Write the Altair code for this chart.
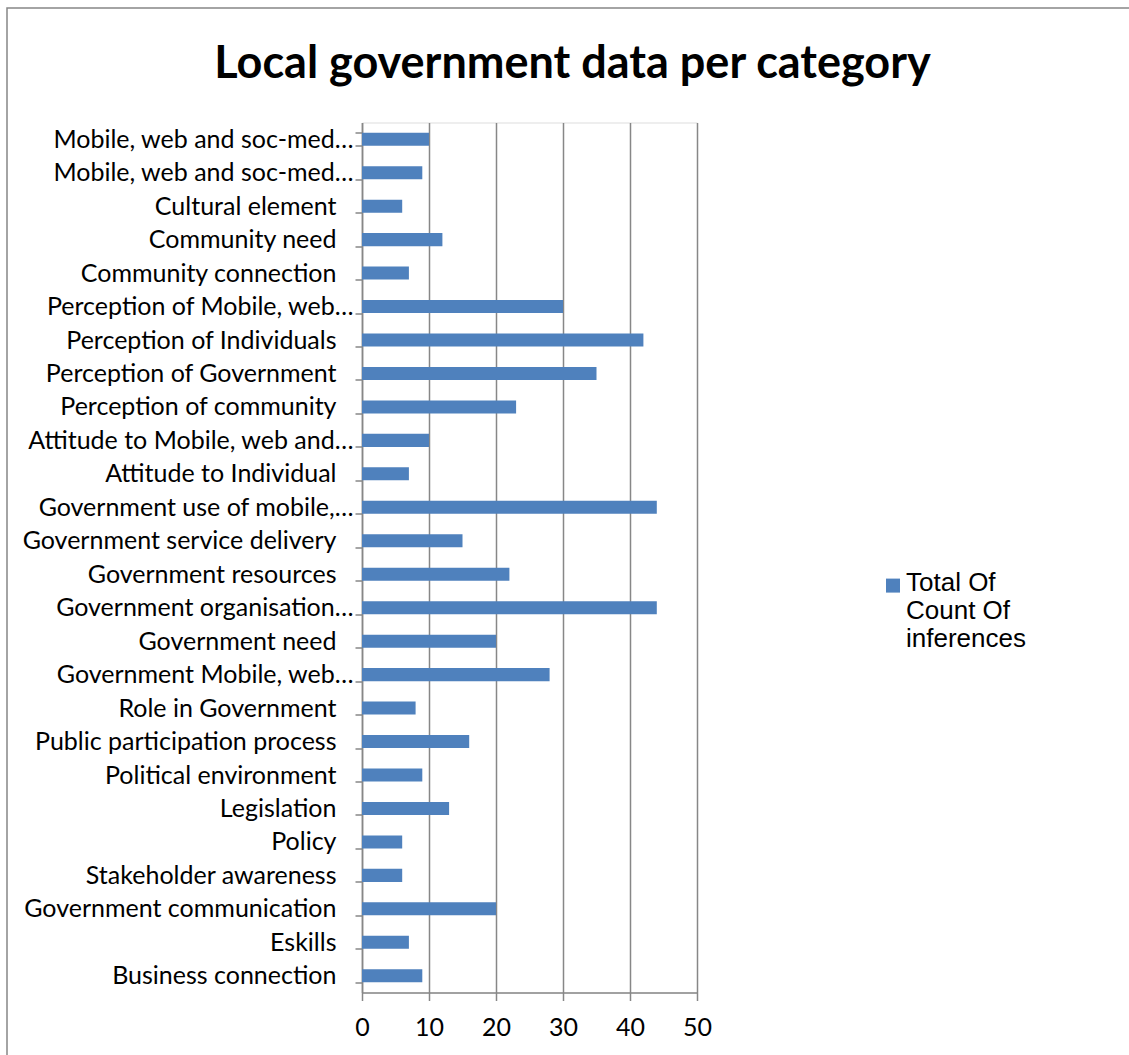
import altair as alt
import pandas as pd

# ---- data (top to bottom as displayed) ----
labels = [
    "Mobile, web and soc-med…",
    "Mobile, web and soc-med…",
    "Cultural element",
    "Community need",
    "Community connection",
    "Perception of Mobile, web…",
    "Perception of Individuals",
    "Perception of Government",
    "Perception of community",
    "Attitude to Mobile, web and…",
    "Attitude to Individual",
    "Government use of mobile,…",
    "Government service delivery",
    "Government resources",
    "Government organisation…",
    "Government need",
    "Government Mobile, web…",
    "Role in Government",
    "Public participation process",
    "Political environment",
    "Legislation",
    "Policy",
    "Stakeholder awareness",
    "Government communication",
    "Eskills",
    "Business connection",
]
counts = [10, 9, 6, 12, 7, 30, 42, 35, 23, 10, 7, 44, 15, 22, 44, 20, 28, 8, 16, 9, 13, 6, 6, 20, 7, 9]
series_name = "Total Of Count Of inferences"
legend_lines = ["Total Of", "Count Of", "inferences"]
x_ticks = [0, 10, 20, 30, 40, 50]
title_text = "Local government data per category"

keys = [f"k{i:02d}" for i in range(len(labels))]
df = pd.DataFrame({"key": keys, "label": labels, "count": counts, "series": series_name})

label_expr = "{" + ", ".join(f"'{k}': '{l}'" for k, l in zip(keys, labels)) + "}[datum.value]"
trunc_keys = [k for k, l in zip(keys, labels) if l.endswith("…")]
trunc_test = "indexof([" + ",".join(f"'{k}'" for k in trunc_keys) + "], datum.value) >= 0"
legend_expr = "[" + ", ".join(f"'{s}'" for s in legend_lines) + "]"

GRAY = "#878787"
BLUE = "#4F81BD"

bars = alt.Chart(df).mark_bar().encode(
    x=alt.X(
        "count:Q",
        scale=alt.Scale(domain=[0, 50], nice=False),
        axis=alt.Axis(
            values=x_ticks, title=None, grid=True, gridColor=GRAY, gridWidth=1.5,
            domainColor=GRAY, domainWidth=1.5, tickColor=GRAY, tickWidth=1.5, tickSize=8,
            labelFont="Lato", labelFontSize=25, labelColor="black", labelPadding=15,
            labelFlush=False, labelOverlap=False,
        ),
    ),
    y=alt.Y(
        "key:N",
        sort=keys,
        scale=alt.Scale(paddingInner=0.61, paddingOuter=0.305),
        axis=alt.Axis(
            title=None, labelExpr=label_expr, tickBand="extent", tickSize=7,
            tickColor=GRAY, tickWidth=1.5, domainColor=GRAY, domainWidth=1.5,
            labelFont="Lato", labelFontSize=25, labelColor="black", labelLimit=400,
            labelPadding={"condition": {"test": trunc_test, "value": 2}, "value": 19},
        ),
    ),
    color=alt.Color(
        "series:N",
        scale=alt.Scale(range=[BLUE]),
        legend=alt.Legend(
            title=None, orient="none", legendX=518, legendY=455, padding=0,
            labelExpr=legend_expr, labelFont="Liberation Sans", labelFontSize=26,
            labelColor="black", labelBaseline="alphabetic", labelOffset=0, labelLimit=400,
            symbolType="M-1,-1.7H1V0.3H-1Z", symbolSize=196, symbolStrokeWidth=0,
            symbolFillColor=BLUE,
        ),
    ),
)

border = alt.Chart(alt.Data(values=[{}])).mark_rect(
    filled=False, stroke=GRAY, strokeWidth=1.5
).encode(
    x=alt.value(-355), x2=alt.value(900), y=alt.value(-114.5), y2=alt.value(1000)
)

chart = alt.layer(border, bars).properties(
    width=335,
    height=870,
    title=alt.Title(
        title_text, font="Lato", fontSize=45, fontWeight="bold", color="black",
        anchor="middle", frame="group", dx=43, offset=-116, baseline="alphabetic",
    ),
    autosize=alt.AutoSizeParams(type="none"),
    padding={"left": 362, "top": 122.5, "right": 432, "bottom": 62.5},
).configure_view(stroke=None).configure(background="white")

chart.save("out.html", embed_options={"renderer": "svg", "actions": False})
